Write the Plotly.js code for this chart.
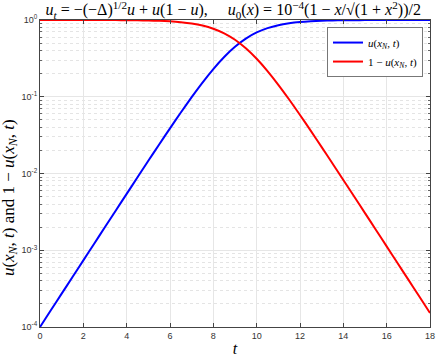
<!DOCTYPE html>
<html>
<head>
<meta charset="utf-8">
<script src="https://cdn.plot.ly/plotly-3.0.1.min.js"></script>
<style>
  html, body { margin: 0; padding: 0; background: #fff; }
  #chart { width: 436px; height: 357px; }
</style>
</head>
<body>
<div id="chart"></div>
<script>
// time samples
var t = [0, 0.5, 1, 1.5, 2, 2.5, 3, 3.5, 4, 4.5, 5, 5.5, 6, 6.5, 7, 7.5, 8, 8.5,
         9, 9.5, 10, 10.5, 11, 11.5, 12, 12.5, 13, 13.5, 14, 14.5, 15, 15.5, 16,
         16.5, 17, 17.5, 18];

// u(x_N, t)
var u = [1.0e-4, 1.65e-4, 2.72e-4, 4.48e-4, 7.38e-4, 1.217e-3, 2.005e-3, 3.30e-3,
         5.43e-3, 8.92e-3, 0.01463, 0.02389, 0.03878, 0.06237, 0.09884, 0.1531,
         0.2297, 0.3296, 0.4476, 0.5719, 0.6878, 0.7841, 0.8569, 0.9080, 0.9421,
         0.9641, 0.9779, 0.9865, 0.9918, 0.9950, 0.9970, 0.99815, 0.99888,
         0.99932, 0.99959, 0.99975, 0.99985];

// 1 - u(x_N, t)
var oneMinusU = [0.9999, 0.99984, 0.99973, 0.99955, 0.99926, 0.99878, 0.99800,
                 0.99670, 0.99457, 0.99108, 0.98537, 0.97611, 0.96122, 0.93763,
                 0.90117, 0.84687, 0.77034, 0.67045, 0.55237, 0.42806, 0.31222,
                 0.21589, 0.14310, 0.09197, 0.05788, 0.03592, 0.02210, 0.01352,
                 0.008246, 0.005018, 0.003049, 0.001852, 0.001124, 6.82e-4,
                 4.138e-4, 2.511e-4, 1.523e-4];

var yTickVals = [1e-4, 1e-3, 1e-2, 1e-1, 1];
var yTickText = ['10<sup>-4</sup>', '10<sup>-3</sup>', '10<sup>-2</sup>', '10<sup>-1</sup>', '10<sup>0</sup>'];

var minorVals = [];
for (var d = -4; d < 0; d++) {
    for (var k = 2; k <= 9; k++) minorVals.push(k * Math.pow(10, d));
}

var serif = '"Liberation Serif", "DejaVu Serif", serif';

var traces = [
    {
        x: t, y: u,
        type: 'scatter', mode: 'lines',
        name: '<i>u</i>(<i>x<sub>N</sub></i>, <i>t</i>)',
        line: { color: '#0000ff', width: 2, shape: 'spline', smoothing: 0.6 }
    },
    {
        x: t, y: oneMinusU,
        type: 'scatter', mode: 'lines',
        name: '1 − <i>u</i>(<i>x<sub>N</sub></i>, <i>t</i>)',
        line: { color: '#ff0000', width: 2, shape: 'spline', smoothing: 0.6 }
    }
];

var layout = {
    width: 436, height: 357,
    margin: { l: 40, r: 6, t: 20, b: 30 },
    paper_bgcolor: '#fff', plot_bgcolor: '#fff',
    showlegend: true,
    title: {
        text: '<i>u<sub>t</sub></i> = −(−Δ)<sup>1/2</sup><i>u</i> + <i>u</i>(1 − <i>u</i>),&nbsp;&nbsp;&nbsp;&nbsp; <i>u</i><sub>0</sub>(<i>x</i>) = 10<sup>−4</sup>(1 − <i>x</i>/√(1 + <i>x</i><sup>2</sup>))/2',
        font: { family: serif, size: 16, color: '#000' },
        x: 0.535, xanchor: 'center', yref: 'container', y: 0.973, yanchor: 'middle'
    },
    legend: {
        x: 0.982, xanchor: 'right', y: 0.977, yanchor: 'top',
        bgcolor: '#fff', bordercolor: '#777', borderwidth: 1,
        font: { family: serif, size: 11, color: '#000' },
        tracegroupgap: 0, itemwidth: 30
    },
    annotations: [{
        text: '<i>u</i>(<i>x<sub>N</sub></i>, <i>t</i>) and 1 − <i>u</i>(<i>x<sub>N</sub></i>, <i>t</i>)',
        font: { family: serif, size: 17, color: '#000' },
        textangle: -90,
        xref: 'paper', x: -0.077, xanchor: 'center',
        yref: 'paper', y: 0.423, yanchor: 'middle',
        showarrow: false
    }],
    xaxis: {
        range: [0, 18],
        dtick: 2,
        ticks: 'inside', ticklen: 4, tickcolor: '#444',
        showline: true, linecolor: '#444', linewidth: 1, mirror: 'ticks',
        showgrid: true, gridcolor: '#e6e6e6', zeroline: false,
        tickfont: { family: 'Liberation Sans, Arial, sans-serif', size: 9, color: '#333' },
        title: { text: '<i>t</i>', font: { family: serif, size: 16, color: '#000' }, standoff: 4 }
    },
    yaxis: {
        type: 'log',
        range: [-4, 0],
        tickmode: 'array', tickvals: yTickVals, ticktext: yTickText,
        ticks: 'inside', ticklen: 4, tickcolor: '#444',
        showline: true, linecolor: '#444', linewidth: 1, mirror: 'ticks',
        showgrid: true, gridcolor: '#e6e6e6', zeroline: false,
        tickfont: { family: 'Liberation Sans, Arial, sans-serif', size: 9, color: '#333' },
        minor: {
            tickmode: 'array', tickvals: minorVals,
            ticks: 'inside', ticklen: 2, tickcolor: '#666',
            showgrid: true, gridcolor: '#e4e4e4', griddash: 'dot', gridwidth: 1
        }
    }
};

Plotly.newPlot('chart', traces, layout, { displayModeBar: false, staticPlot: true });
</script>
</body>
</html>
